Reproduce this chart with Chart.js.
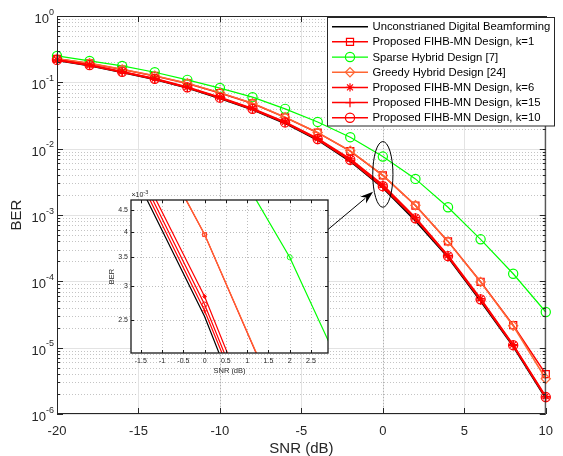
<!DOCTYPE html>
<html>
<head>
<meta charset="utf-8">
<script src="https://cdn.jsdelivr.net/npm/chart.js@4.4.1/dist/chart.umd.min.js"></script>
<style>
  body { margin: 0; background: #fff; }
  #wrap { position: relative; width: 563px; height: 456px; }
  #main { position: absolute; left: 0; top: 0; }
  #zoom { position: absolute; left: 95px; top: 185px; }
</style>
</head>
<body>
<div id="wrap">
  <canvas id="main" width="563" height="456"></canvas>
  <canvas id="zoom" width="240" height="192"></canvas>
</div>
<script>
// SNR points (dB)
const snr = [-20, -18, -16, -14, -12, -10, -8, -6, -4, -2, 0, 2, 4, 6, 8, 10];

// BER curves
const berDigital = [0.214, 0.178, 0.141, 0.110, 0.082, 0.057, 0.0385, 0.0240, 0.0134, 0.0064, 0.00255, 0.00081, 0.000228, 0.0000500, 0.0000104, 0.00000170];
const berK1      = [0.226, 0.193, 0.156, 0.125, 0.096, 0.069, 0.0480, 0.0296, 0.0174, 0.0092, 0.00395, 0.00139, 0.000400, 0.0000985, 0.0000218, 0.00000400];
const berSparse  = [0.250, 0.210, 0.177, 0.142, 0.109, 0.082, 0.0598, 0.0398, 0.0253, 0.0149, 0.00760, 0.00350, 0.001310, 0.000430, 0.000130, 0.0000345];
const berGreedy  = [0.227, 0.194, 0.157, 0.126, 0.097, 0.070, 0.0483, 0.0298, 0.0175, 0.0093, 0.00395, 0.00140, 0.000400, 0.0000980, 0.0000214, 0.00000340];
const berK6      = [0.219, 0.183, 0.145, 0.114, 0.085, 0.0595, 0.0405, 0.0253, 0.0143, 0.0070, 0.00284, 0.00092, 0.000246, 0.0000550, 0.0000111, 0.00000185];
const berK15     = [0.216, 0.180, 0.142, 0.111, 0.083, 0.0580, 0.0390, 0.0245, 0.0137, 0.0066, 0.00263, 0.00087, 0.000234, 0.0000520, 0.0000107, 0.00000175];
const berK10     = [0.218, 0.182, 0.144, 0.113, 0.084, 0.0588, 0.0398, 0.0249, 0.0140, 0.0068, 0.00272, 0.00089, 0.000240, 0.0000535, 0.0000109, 0.00000180];

const seriesNames = [
  'Unconstrianed Digital Beamforming',
  'Proposed FIHB-MN Design, k=1',
  'Sparse Hybrid Design [7]',
  'Greedy Hybrid Design [24]',
  'Proposed FIHB-MN Design, k=6',
  'Proposed FIHB-MN Design, k=15',
  'Proposed FIHB-MN Design, k=10'
];
const seriesData = [berDigital, berK1, berSparse, berGreedy, berK6, berK15, berK10];

// axis ticks
const xTicks = [-20, -15, -10, -5, 0, 5, 10];
const yDecades = [0, -1, -2, -3, -4, -5, -6];
const zoomXTicks = [-1.5, -1, -0.5, 0, 0.5, 1, 1.5, 2, 2.5];
const zoomYTicks = [0.0025, 0.003, 0.0035, 0.004, 0.0045];

// look of each curve
const colors  = ['#000000', '#ff0000', '#00ff00', '#ff6633', '#ff0000', '#ff0000', '#ff0000'];
const markers = [null, 'rect', 'circle', 'rectRot', 'star', 'cross', 'circle'];
const msize   = [0, 5, 4.6, 4.6, 4.2, 4.6, 4.6];
const widths  = [1.5, 1.5, 1.2, 1.5, 1.5, 1.5, 1.5];

const FONT = '"Liberation Sans", Arial, Helvetica, sans-serif';
const AX = '#262626';

function buildDatasets(big) {
  return seriesData.map((vals, i) => ({
    label: seriesNames[i],
    data: snr.map((s, j) => ({ x: s, y: vals[j] })),
    borderColor: colors[i],
    backgroundColor: colors[i],
    borderWidth: big ? widths[i] : 1.2,
    pointStyle: markers[i] || 'circle',
    pointRadius: markers[i] ? (big ? msize[i] : msize[i] * 0.55) : 0,
    pointBorderColor: colors[i],
    pointBackgroundColor: 'rgba(0,0,0,0)',
    pointBorderWidth: big ? 1.2 : 0.9,
    tension: 0,
    order: seriesData.length - i,
    clip: big ? false : 0
  }));
}

function hline(ctx, x1, x2, y) { ctx.beginPath(); ctx.moveTo(x1, y); ctx.lineTo(x2, y); ctx.stroke(); }
function vline(ctx, x, y1, y2) { ctx.beginPath(); ctx.moveTo(x, y1); ctx.lineTo(x, y2); ctx.stroke(); }

// main plot: grid, box, ticks, note ellipse + arrow, legend, 10^n labels
const mainDecor = {
  id: 'mainDecor',
  beforeDatasetsDraw(chart) {
    const { ctx, chartArea: a, scales: { x, y } } = chart;
    ctx.save();
    ctx.lineWidth = 1;
    for (const e of yDecades) {
      const py = Math.round(y.getPixelForValue(Math.pow(10, e))) + 0.5;
      ctx.setLineDash([]);
      ctx.strokeStyle = '#e3e3e3';
      hline(ctx, a.left, a.right, py);
      if (e === 0) continue;
      ctx.setLineDash([1, 2]);
      ctx.strokeStyle = '#c4c4c4';
      for (let m = 2; m <= 9; m++) {
        const pm = Math.round(y.getPixelForValue(m * Math.pow(10, e))) + 0.5;
        hline(ctx, a.left, a.right, pm);
      }
    }
    for (const v of xTicks) {
      const px = Math.round(x.getPixelForValue(v)) + 0.5;
      ctx.setLineDash([]);
      ctx.strokeStyle = '#e3e3e3';
      vline(ctx, px, a.top, a.bottom);
      if (v === -10 || v === 0) {
        ctx.setLineDash([1, 2]);
        ctx.strokeStyle = '#b0b0b0';
        vline(ctx, px, a.top, a.bottom);
      }
    }
    ctx.restore();
  },
  afterDatasetsDraw(chart) {
    const { ctx, chartArea: a, scales: { x, y } } = chart;
    ctx.save();
    ctx.strokeStyle = AX;
    ctx.lineWidth = 1;
    ctx.setLineDash([]);
    ctx.strokeRect(a.left + 0.5, a.top + 0.5, a.right - a.left - 1, a.bottom - a.top - 1);
    // inward ticks
    for (const v of xTicks) {
      const px = Math.round(x.getPixelForValue(v)) + 0.5;
      vline(ctx, px, a.bottom, a.bottom - 6);
      vline(ctx, px, a.top, a.top + 6);
    }
    for (const e of yDecades) {
      const py = Math.round(y.getPixelForValue(Math.pow(10, e))) + 0.5;
      hline(ctx, a.left, a.left + 6, py);
      hline(ctx, a.right, a.right - 6, py);
      if (e === 0) continue;
      for (let m = 2; m <= 9; m++) {
        const pm = Math.round(y.getPixelForValue(m * Math.pow(10, e))) + 0.5;
        hline(ctx, a.left, a.left + 3, pm);
        hline(ctx, a.right, a.right - 3, pm);
      }
    }
    // ellipse around the SNR = 0 dB points
    const ex1 = x.getPixelForValue(-0.62), ex2 = x.getPixelForValue(0.62);
    const ey1 = y.getPixelForValue(0.0128), ey2 = y.getPixelForValue(0.00131);
    ctx.strokeStyle = '#000';
    ctx.beginPath();
    ctx.ellipse((ex1 + ex2) / 2, (ey1 + ey2) / 2, (ex2 - ex1) / 2, (ey2 - ey1) / 2, 0, 0, Math.PI * 2);
    ctx.stroke();
    // arrow from the zoom box to the ellipse
    const tx = x.getPixelForValue(-3.4), ty = y.getPixelForValue(0.000595);
    const hx = x.getPixelForValue(-0.6), hy = y.getPixelForValue(0.00224);
    const ang = Math.atan2(hy - ty, hx - tx);
    const hl = 13, hw = 4.5;
    const bx = hx - hl * Math.cos(ang), by = hy - hl * Math.sin(ang);
    ctx.beginPath();
    ctx.moveTo(tx, ty);
    ctx.lineTo(bx + 3 * Math.cos(ang), by + 3 * Math.sin(ang));
    ctx.stroke();
    ctx.fillStyle = '#000';
    ctx.beginPath();
    ctx.moveTo(hx, hy);
    ctx.lineTo(bx + hw * Math.sin(ang), by - hw * Math.cos(ang));
    ctx.lineTo(bx + 4 * Math.cos(ang), by + 4 * Math.sin(ang));
    ctx.lineTo(bx - hw * Math.sin(ang), by + hw * Math.cos(ang));
    ctx.closePath();
    ctx.fill();
    ctx.restore();
  },
  afterDraw(chart) {
    const { ctx, chartArea: a, scales: { y } } = chart;
    ctx.save();
    // y tick labels as 10^n
    ctx.fillStyle = AX;
    ctx.textBaseline = 'alphabetic';
    for (const e of yDecades) {
      const py = y.getPixelForValue(Math.pow(10, e));
      const exp = String(e);
      ctx.font = '9px ' + FONT;
      const ew = ctx.measureText(exp).width;
      const right = a.left - 3;
      ctx.textAlign = 'left';
      ctx.fillText(exp, right - ew, py - 1.5);
      ctx.font = '13px ' + FONT;
      ctx.textAlign = 'right';
      ctx.fillText('10', right - ew, py + 7);
    }
    // legend
    const lx = 327.5, ly = 17.5, lw = 227, lh = 108.5;
    ctx.fillStyle = '#fff';
    ctx.fillRect(lx, ly, lw, lh);
    ctx.strokeStyle = AX;
    ctx.lineWidth = 1;
    ctx.strokeRect(lx, ly, lw, lh);
    ctx.font = '11.3px ' + FONT;
    ctx.textAlign = 'left';
    ctx.textBaseline = 'middle';
    chart.data.datasets.forEach((ds, i) => {
      const cy = 26.7 + i * 15.17;
      ctx.strokeStyle = ds.borderColor;
      ctx.lineWidth = ds.borderWidth;
      hline(ctx, 332, 368, cy);
      if (ds.pointRadius > 0) {
        ctx.fillStyle = 'rgba(0,0,0,0)';
        ctx.lineWidth = 1.2;
        Chart.helpers.drawPoint(ctx, { pointStyle: ds.pointStyle, radius: ds.pointRadius, rotation: 0, borderWidth: 1.2 }, 350, cy);
      }
      ctx.fillStyle = '#000';
      ctx.fillText(ds.label, 372.5, cy + 0.5);
    });
    ctx.restore();
  }
};

new Chart(document.getElementById('main'), {
  type: 'line',
  data: { datasets: buildDatasets(true) },
  options: {
    responsive: false,
    animation: false,
    events: [],
    layout: { padding: { top: 16, right: 8, left: 0, bottom: 0 } },
    plugins: { legend: { display: false }, tooltip: { enabled: false } },
    scales: {
      x: {
        type: 'linear', min: -20, max: 10,
        afterBuildTicks: s => { s.ticks = xTicks.map(v => ({ value: v })); },
        afterFit: s => { s.height = 42; },
        grid: { display: false, drawTicks: false },
        border: { display: false },
        ticks: { color: AX, font: { family: FONT, size: 13 }, padding: 10, maxRotation: 0 },
        title: { display: true, text: 'SNR (dB)', color: AX, font: { family: FONT, size: 15, lineHeight: 1 }, padding: { top: 0, bottom: 0 } }
      },
      y: {
        type: 'logarithmic', min: 1e-6, max: 1,
        afterFit: s => { s.width = 57; },
        grid: { display: false, drawTicks: false },
        border: { display: false },
        ticks: { display: false },
        title: { display: true, text: 'BER', color: AX, font: { family: FONT, size: 15, lineHeight: 1 }, padding: { top: 9, bottom: 0 } }
      }
    }
  },
  plugins: [mainDecor]
});

// zoomed view around SNR = 0 dB
const zoomDecor = {
  id: 'zoomDecor',
  beforeDatasetsDraw(chart) {
    const { ctx, chartArea: a, scales: { x, y } } = chart;
    ctx.save();
    ctx.fillStyle = '#fff';
    ctx.fillRect(a.left, a.top, a.right - a.left, a.bottom - a.top);
    ctx.strokeStyle = '#bdbdbd';
    ctx.lineWidth = 1;
    ctx.setLineDash([1, 2]);
    for (const v of zoomXTicks) vline(ctx, Math.round(x.getPixelForValue(v)) + 0.5, a.top, a.bottom);
    for (const v of zoomYTicks) hline(ctx, a.left, a.right, Math.round(y.getPixelForValue(v)) + 0.5);
    ctx.restore();
  },
  afterDatasetsDraw(chart) {
    const { ctx, chartArea: a, scales: { x, y } } = chart;
    ctx.save();
    ctx.strokeStyle = '#1a1a1a';
    ctx.lineWidth = 1.3;
    ctx.strokeRect(a.left, a.top, a.right - a.left, a.bottom - a.top);
    ctx.lineWidth = 1;
    for (const v of zoomXTicks) {
      const px = Math.round(x.getPixelForValue(v)) + 0.5;
      vline(ctx, px, a.bottom, a.bottom - 3);
      vline(ctx, px, a.top, a.top + 3);
    }
    for (const v of zoomYTicks) {
      const py = Math.round(y.getPixelForValue(v)) + 0.5;
      hline(ctx, a.left, a.left + 3, py);
      hline(ctx, a.right, a.right - 3, py);
    }
    // exponent note above the y axis
    ctx.fillStyle = AX;
    ctx.textAlign = 'left';
    ctx.font = '7px ' + FONT;
    ctx.fillText('\u00d710', a.left + 0.5, a.top - 3);
    const w = ctx.measureText('\u00d710').width;
    ctx.font = '5.5px ' + FONT;
    ctx.fillText('-3', a.left + 0.5 + w, a.top - 6);
    ctx.restore();
  }
};

new Chart(document.getElementById('zoom'), {
  type: 'line',
  data: { datasets: buildDatasets(false) },
  options: {
    responsive: false,
    animation: false,
    events: [],
    layout: { padding: { top: 15, right: 7, left: 0, bottom: 0 } },
    plugins: { legend: { display: false }, tooltip: { enabled: false } },
    scales: {
      x: {
        type: 'linear', min: -1.73, max: 2.9,
        afterBuildTicks: s => { s.ticks = zoomXTicks.map(v => ({ value: v })); },
        afterFit: s => { s.height = 24; },
        grid: { display: false, drawTicks: false },
        border: { display: false },
        ticks: { color: AX, font: { family: FONT, size: 7 }, padding: 4, maxRotation: 0, autoSkip: false, callback: v => String(v) },
        title: { display: true, text: 'SNR (dB)', color: AX, font: { family: FONT, size: 7.5, lineHeight: 1 }, padding: { top: 0, bottom: 2.5 } }
      },
      y: {
        type: 'logarithmic', min: 0.0021, max: 0.00475,
        afterBuildTicks: s => { s.ticks = zoomYTicks.map(v => ({ value: v })); },
        afterFit: s => { s.width = 36; },
        grid: { display: false, drawTicks: false },
        border: { display: false },
        ticks: { color: AX, font: { family: FONT, size: 7 }, padding: 3, callback: v => String(Math.round(v * 10000) / 10) },
        title: { display: true, text: 'BER', color: AX, font: { family: FONT, size: 7.5, lineHeight: 1 }, padding: { top: 13.5, bottom: 0 } }
      }
    }
  },
  plugins: [zoomDecor]
});
</script>
</body>
</html>
